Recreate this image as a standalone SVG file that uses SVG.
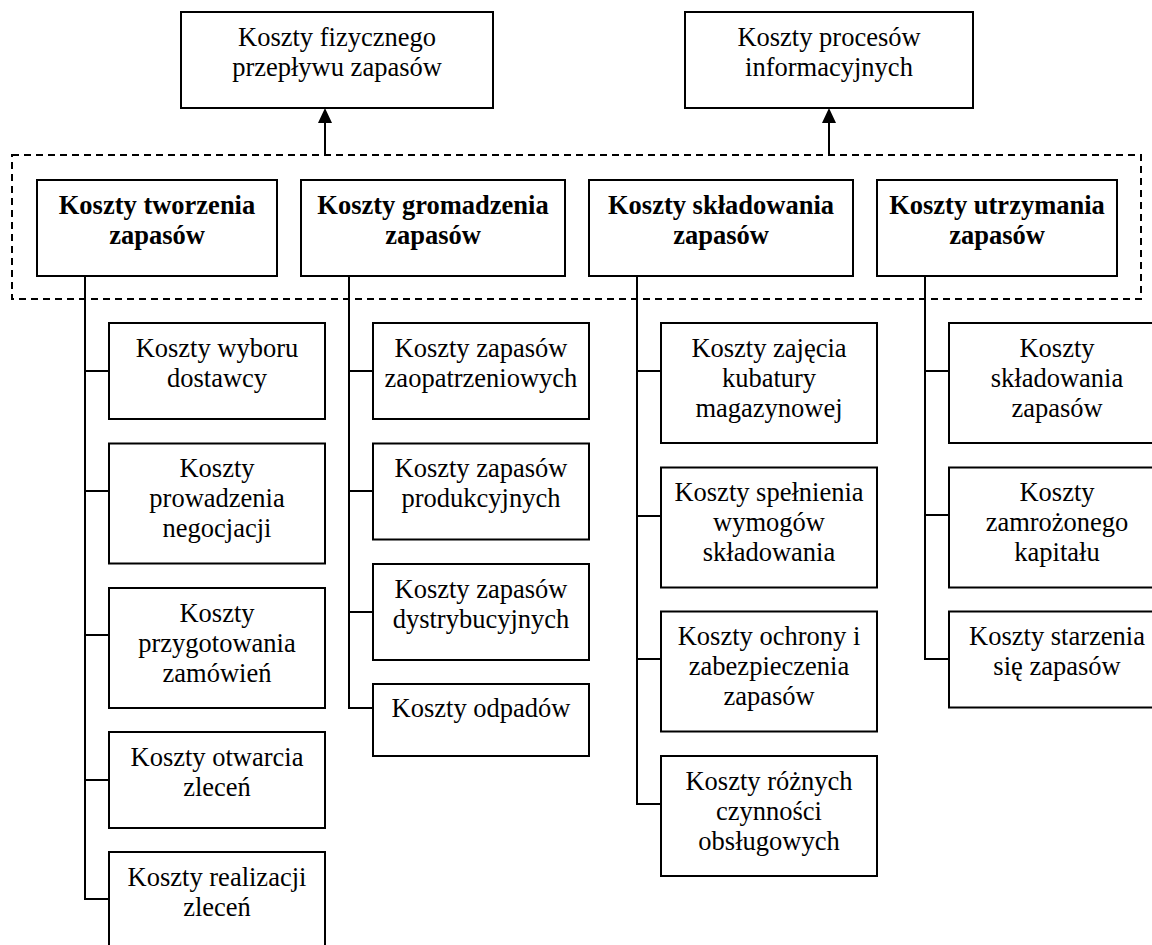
<svg xmlns="http://www.w3.org/2000/svg" width="1152" height="945" viewBox="0 0 1152 945">
<style>
.box{fill:#fff;stroke:#000;stroke-width:2}
.t{font-family:"Liberation Serif","Times New Roman",serif;font-size:26.5px;fill:#000;text-anchor:middle}
.b{font-weight:bold}
.ln{stroke:#000;stroke-width:2;fill:none}
.dash{stroke:#000;stroke-width:2;fill:none;stroke-dasharray:7 5}
</style>
<defs>
<marker id="ah" viewBox="0 0 14 15" refX="7" refY="0" markerWidth="14" markerHeight="15" markerUnits="userSpaceOnUse" orient="auto-start-reverse">
<path d="M0,15 L7,0 L14,15 Z" fill="#000"/>
</marker>
</defs>
<rect width="1152" height="945" fill="#fff"/>
<g id="group-frame"><rect class="dash" x="12" y="155" width="1129" height="144"/></g>
<g id="connectors">
<line class="ln" x1="325" y1="155" x2="325" y2="116"/>
<path d="M318,123 L325,108 L332,123 Z" fill="#000"/>
<line class="ln" x1="829" y1="155" x2="829" y2="116"/>
<path d="M822,123 L829,108 L836,123 Z" fill="#000"/>
<polyline class="ln" points="85,276 85,899 109,899"/>
<line class="ln" x1="85" y1="371" x2="109" y2="371"/>
<line class="ln" x1="85" y1="491" x2="109" y2="491"/>
<line class="ln" x1="85" y1="635" x2="109" y2="635"/>
<line class="ln" x1="85" y1="780" x2="109" y2="780"/>
<polyline class="ln" points="349,276 349,708 373,708"/>
<line class="ln" x1="349" y1="371" x2="373" y2="371"/>
<line class="ln" x1="349" y1="491" x2="373" y2="491"/>
<line class="ln" x1="349" y1="612" x2="373" y2="612"/>
<polyline class="ln" points="637,276 637,804 661,804"/>
<line class="ln" x1="637" y1="371" x2="661" y2="371"/>
<line class="ln" x1="637" y1="516" x2="661" y2="516"/>
<line class="ln" x1="637" y1="659" x2="661" y2="659"/>
<polyline class="ln" points="925,276 925,659 949,659"/>
<line class="ln" x1="925" y1="371" x2="949" y2="371"/>
<line class="ln" x1="925" y1="515" x2="949" y2="515"/>
</g>
<g id="top1"><rect class="box" x="181" y="12" width="312" height="96"/><text class="t" x="337"><tspan x="337" y="45.5">Koszty fizycznego</tspan><tspan x="337" y="75.5">przepływu zapasów</tspan></text></g>
<g id="top2"><rect class="box" x="685" y="12" width="288" height="96"/><text class="t" x="829"><tspan x="829" y="45.5">Koszty procesów</tspan><tspan x="829" y="75.5">informacyjnych</tspan></text></g>
<g id="tworzenia"><rect class="box" x="37" y="180" width="240" height="96"/><text class="t b"><tspan x="157" y="213.5">Koszty tworzenia</tspan><tspan x="157" y="243.5">zapasów</tspan></text></g>
<g id="gromadzenia"><rect class="box" x="301" y="180" width="264" height="96"/><text class="t b"><tspan x="433" y="213.5">Koszty gromadzenia</tspan><tspan x="433" y="243.5">zapasów</tspan></text></g>
<g id="skladowania"><rect class="box" x="589" y="180" width="264" height="96"/><text class="t b"><tspan x="721" y="213.5">Koszty składowania</tspan><tspan x="721" y="243.5">zapasów</tspan></text></g>
<g id="utrzymania"><rect class="box" x="877" y="180" width="240" height="96"/><text class="t b"><tspan x="997" y="213.5">Koszty utrzymania</tspan><tspan x="997" y="243.5">zapasów</tspan></text></g>
<g id="c1a"><rect class="box" x="109" y="323" width="216" height="96"/><text class="t"><tspan x="217" y="356.5">Koszty wyboru</tspan><tspan x="217" y="386.5">dostawcy</tspan></text></g>
<g id="c1b"><rect class="box" x="109" y="443.5" width="216" height="120"/><text class="t"><tspan x="217" y="477">Koszty</tspan><tspan x="217" y="507">prowadzenia</tspan><tspan x="217" y="537">negocjacji</tspan></text></g>
<g id="c1c"><rect class="box" x="109" y="588" width="216" height="120"/><text class="t"><tspan x="217" y="621.5">Koszty</tspan><tspan x="217" y="651.5">przygotowania</tspan><tspan x="217" y="681.5">zamówień</tspan></text></g>
<g id="c1d"><rect class="box" x="109" y="732" width="216" height="96"/><text class="t"><tspan x="217" y="765.5">Koszty otwarcia</tspan><tspan x="217" y="795.5">zleceń</tspan></text></g>
<g id="c1e"><rect class="box" x="109" y="852" width="216" height="96"/><text class="t"><tspan x="217" y="885.5">Koszty realizacji</tspan><tspan x="217" y="915.5">zleceń</tspan></text></g>
<g id="c2a"><rect class="box" x="373" y="323" width="216" height="96"/><text class="t"><tspan x="481" y="356.5">Koszty zapasów</tspan><tspan x="481" y="386.5">zaopatrzeniowych</tspan></text></g>
<g id="c2b"><rect class="box" x="373" y="443.5" width="216" height="96"/><text class="t"><tspan x="481" y="477">Koszty zapasów</tspan><tspan x="481" y="507">produkcyjnych</tspan></text></g>
<g id="c2c"><rect class="box" x="373" y="564" width="216" height="96"/><text class="t"><tspan x="481" y="597.5">Koszty zapasów</tspan><tspan x="481" y="627.5">dystrybucyjnych</tspan></text></g>
<g id="c2d"><rect class="box" x="373" y="684" width="216" height="72"/><text class="t"><tspan x="481" y="717">Koszty odpadów</tspan></text></g>
<g id="c3a"><rect class="box" x="661" y="323" width="216" height="120"/><text class="t"><tspan x="769" y="356.5">Koszty zajęcia</tspan><tspan x="769" y="386.5">kubatury</tspan><tspan x="769" y="416.5">magazynowej</tspan></text></g>
<g id="c3b"><rect class="box" x="661" y="467.5" width="216" height="120"/><text class="t"><tspan x="769" y="501">Koszty spełnienia</tspan><tspan x="769" y="531">wymogów</tspan><tspan x="769" y="561">składowania</tspan></text></g>
<g id="c3c"><rect class="box" x="661" y="611.5" width="216" height="120"/><text class="t"><tspan x="769" y="645">Koszty ochrony i</tspan><tspan x="769" y="675">zabezpieczenia</tspan><tspan x="769" y="705">zapasów</tspan></text></g>
<g id="c3d"><rect class="box" x="661" y="756" width="216" height="120"/><text class="t"><tspan x="769" y="789.5">Koszty różnych</tspan><tspan x="769" y="819.5">czynności</tspan><tspan x="769" y="849.5">obsługowych</tspan></text></g>
<g id="c4a"><rect class="box" x="949" y="323" width="216" height="120"/><text class="t"><tspan x="1057" y="356.5">Koszty</tspan><tspan x="1057" y="386.5">składowania</tspan><tspan x="1057" y="416.5">zapasów</tspan></text></g>
<g id="c4b"><rect class="box" x="949" y="467.5" width="216" height="120"/><text class="t"><tspan x="1057" y="501">Koszty</tspan><tspan x="1057" y="531">zamrożonego</tspan><tspan x="1057" y="561">kapitału</tspan></text></g>
<g id="c4c"><rect class="box" x="949" y="611.5" width="216" height="96"/><text class="t"><tspan x="1057" y="645">Koszty starzenia</tspan><tspan x="1057" y="675">się zapasów</tspan></text></g>
</svg>
